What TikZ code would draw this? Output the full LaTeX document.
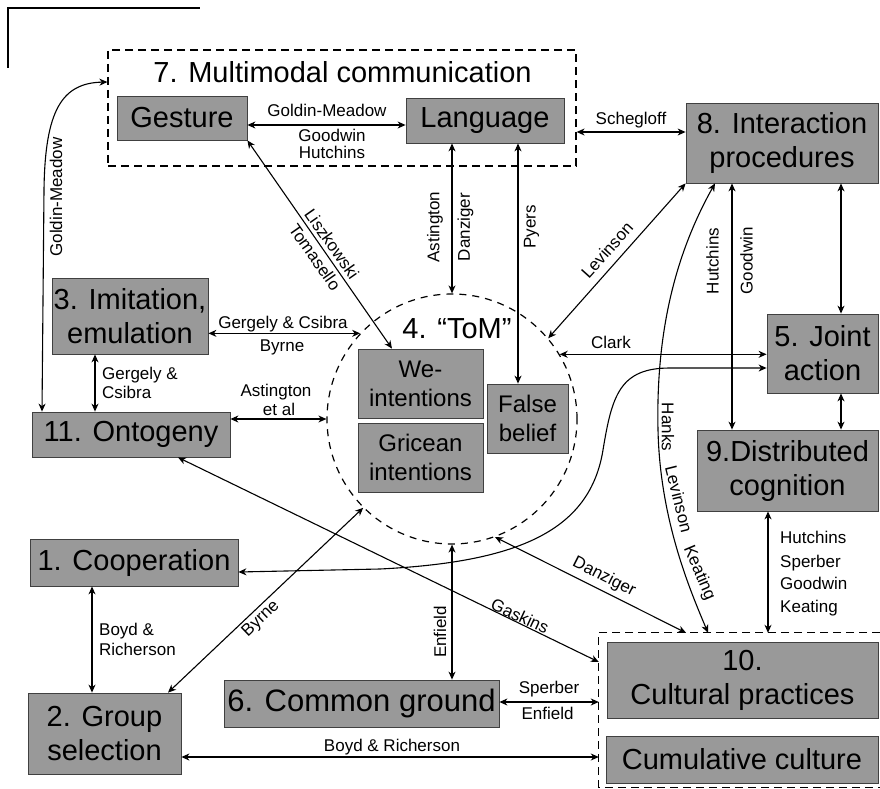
\documentclass[tikz,border=0pt]{standalone}
\usepackage{fontspec}
\setmainfont{Liberation Sans}
\usetikzlibrary{arrows.meta}
\begin{document}
\begin{tikzpicture}[x=1pt,y=-1pt,
  box/.style={draw=black!75, line width=0.8pt, fill=black!40, inner sep=0pt, align=center, font=\fontsize{29}{34}\selectfont},
  sbox/.style={box, font=\fontsize{24}{29}\selectfont},
  lab/.style={inner sep=0pt, font=\fontsize{17}{20}\selectfont},
  conn/.style={line width=1.1pt, {Stealth[length=8pt,width=7pt,inset=2.5pt]}-{Stealth[length=8pt,width=7pt,inset=2.5pt]}},
  grp/.style={draw, line width=1.2pt, dash pattern=on 8pt off 5pt},
]
\useasboundingbox (0,0) rectangle (880,789);
% scan frame corner
\draw[line width=1.1pt] (8,68) -- (8,8) -- (200,8);

% group 7
\node[grp, minimum width=468pt, minimum height=116pt, inner sep=0pt] (g7) at (342,108) {};
\node[inner sep=0pt, font=\fontsize{29}{34}\selectfont] (title7) at (342.5,72) {7. Multimodal communication};
% group 10
\node[minimum width=281pt, minimum height=154pt, inner sep=0pt] (g10) at (739.5,710) {};
\draw[grp] (g10.north east) -| (g10.south west) -- (g10.south east);
% ToM circle
\node[circle, draw, line width=1.2pt, dash pattern=on 7pt off 6pt, minimum size=250pt, inner sep=0pt] (tom) at (452,419) {};
\node[inner sep=0pt, font=\fontsize{29}{34}\selectfont] (tomlabel) at (457,328.5) {4. “ToM”};

% boxes
\node[box, minimum width=130pt, minimum height=44pt] (gesture) at (182,118) {Gesture};
\node[box, minimum width=158pt, minimum height=45pt] (language) at (485,120.5) {Language};
\node[box, minimum width=192pt, minimum height=80pt] (box8) at (782,143) {8. Interaction\\procedures};
\node[box, minimum width=111pt, minimum height=79pt] (box5) at (822.5,353.5) {5. Joint\\action};
\node[box, minimum width=181pt, minimum height=81pt] (box9) at (787.5,470.5) {9.Distributed\\cognition};
\node[box, minimum width=156pt, minimum height=76pt] (box3) at (130,316) {3. Imitation,\\emulation};
\node[box, minimum width=198pt, minimum height=45pt] (box11) at (131,434.5) {11. Ontogeny};
\node[sbox, minimum width=125pt, minimum height=69pt] (we) at (420.5,383.5) {We-\\intentions};
\node[sbox, minimum width=125pt, minimum height=69pt] (gricean) at (420.5,457.5) {Gricean\\intentions};
\node[sbox, minimum width=81pt, minimum height=69pt] (false) at (527.5,418.5) {False\\belief};
\node[box, minimum width=208pt, minimum height=47pt] (box1) at (134,562.5) {1. Cooperation};
\node[box, minimum width=153pt, minimum height=81pt] (box2) at (104.5,733.5) {2. Group\\selection};
\node[box, minimum width=275pt, minimum height=47pt, font=\fontsize{31}{36}\selectfont] (box6) at (361.5,703.5) {6. Common ground};
\node[box, minimum width=271pt, minimum height=76pt] (box10) at (742.5,680) {10.\\Cultural practices};
\node[box, minimum width=272pt, minimum height=47pt] (cumul) at (742,759.5) {Cumulative culture};

% connectors
\draw[conn] (gesture.east |- 0,125) -- (language.west |- 0,125);
\draw[conn] (g7.east |- 0,132) -- (box8.west |- 0,132);
\draw[conn] (tom.40) -- (box8.south west);
\draw[conn] (732,0 |- box9.north) -- (732,0 |- box8.south);
\draw[conn] (841,0 |- box8.south) -- (841,0 |- box5.north);
\draw[conn] (841,0 |- box5.south) -- (841,0 |- box9.north);
\draw[conn] (tom.31) -- (box5.west |- tom.31);
\draw[conn] (box1.east |- 0,572) -- (380,569) .. controls (520,562) and (590,530) .. (603,450) .. controls (612,395) and (620,368) .. (670,368) -- (box5.west |- 0,368);
\draw[conn] (715,0 |- box8.south) .. controls (672,260) and (656,340) .. (658,430) .. controls (660,520) and (690,590) .. (708,0 |- g10.north);
\draw[conn] (tom.north) -- (tom.north |- language.south);
\draw[conn] (518,0 |- false.north) -- (518,0 |- language.south);
\draw[conn] (gesture.south east) -- (392,0 |- we.north);
\draw[conn] (g7.west |- 0,82) .. controls (62,83) and (45,110) .. (44,190) -- (42,0 |- box11.north);
\draw[conn] (box3.east |- tom.137) -- (tom.137);
\draw[conn] (95,0 |- box3.south) -- (95,0 |- box11.north);
\draw[conn] (box11.east |- tom.west) -- (tom.west);
\draw[conn] (92,0 |- box1.south) -- (92,0 |- box2.north);
\draw[conn] (168,0 |- box2.north) -- (tom.225);
\draw[conn] (178,0 |- box11.south) -- (g10.west |- 0,662);
\draw[conn] (tom.290) -- (686,0 |- g10.north);
\draw[conn] (tom.south) -- (tom.south |- box6.north);
\draw[conn] (box6.east |- 0,702) -- (g10.west |- 0,702);
\draw[conn] (box2.east |- 0,757) -- (g10.west |- 0,757);
\draw[conn] (768,0 |- box9.south) -- (768,0 |- g10.north);

% labels
\node[lab] (lgl1) at (327,110) {Goldin-Meadow};
\node[lab] (lgl2) at (332,135) {Goodwin};
\node[lab] (lgl3) at (332,152) {Hutchins};
\node[lab] (lsch) at (631,120) {Schegloff};
\node[lab, rotate=-55] (llis) at (332,244) {Liszkowski};
\node[lab, rotate=-55] (ltom) at (315,257) {Tomasello};
\node[lab, rotate=90] (last) at (435,227) {Astington};
\node[lab, rotate=90] (ldan) at (465.5,227) {Danziger};
\node[lab, rotate=90] (lpye) at (531.5,227) {Pyers};
\node[lab, rotate=48] (llev) at (607,250) {Levinson};
\node[lab, rotate=90] (lhut) at (712.5,261) {Hutchins};
\node[lab, rotate=90] (lgoo) at (746.5,261) {Goodwin};
\node[lab] (lcla) at (611,342) {Clark};
\node[lab, rotate=-90] (lhan) at (668,427) {Hanks};
\node[lab, rotate=-76] (llev2) at (679,499) {Levinson};
\node[lab, rotate=-67] (lkea) at (699,573) {Keating};
\node[lab] (lgc) at (283,324) {Gergely \& Csibra};
\node[lab] (lbyr) at (282,347) {Byrne};
\node[lab, anchor=base west] (lgc2a) at (102,379) {Gergely \&};
\node[lab, anchor=base west] (lgc2b) at (102,398) {Csibra};
\node[lab] (lasa) at (276,392) {Astington};
\node[lab] (lasb) at (279,409) {et al};
\node[lab, rotate=90] (lgm) at (56,197) {Goldin-Meadow};
\node[lab, anchor=base west] (lbr1) at (99,635) {Boyd \&};
\node[lab, anchor=base west] (lbr2) at (99,655) {Richerson};
\node[lab, rotate=44] (lbyr2) at (261,619) {Byrne};
\node[lab, rotate=-25] (lgas) at (520,616) {Gaskins};
\node[lab, rotate=-27] (ldan2) at (604,577) {Danziger};
\node[lab, rotate=90] (lenf) at (440,632) {Enfield};
\node[lab] (lspe) at (549,689) {Sperber};
\node[lab] (lenf2) at (547.5,713.5) {Enfield};
\node[lab] (lbr3) at (392,747) {Boyd \& Richerson};
\node[lab, anchor=base west] (lr1) at (780,543) {Hutchins};
\node[lab, anchor=base west] (lr2) at (780,567) {Sperber};
\node[lab, anchor=base west] (lr3) at (780,589) {Goodwin};
\node[lab, anchor=base west] (lr4) at (780,612) {Keating};
\end{tikzpicture}
\end{document}
